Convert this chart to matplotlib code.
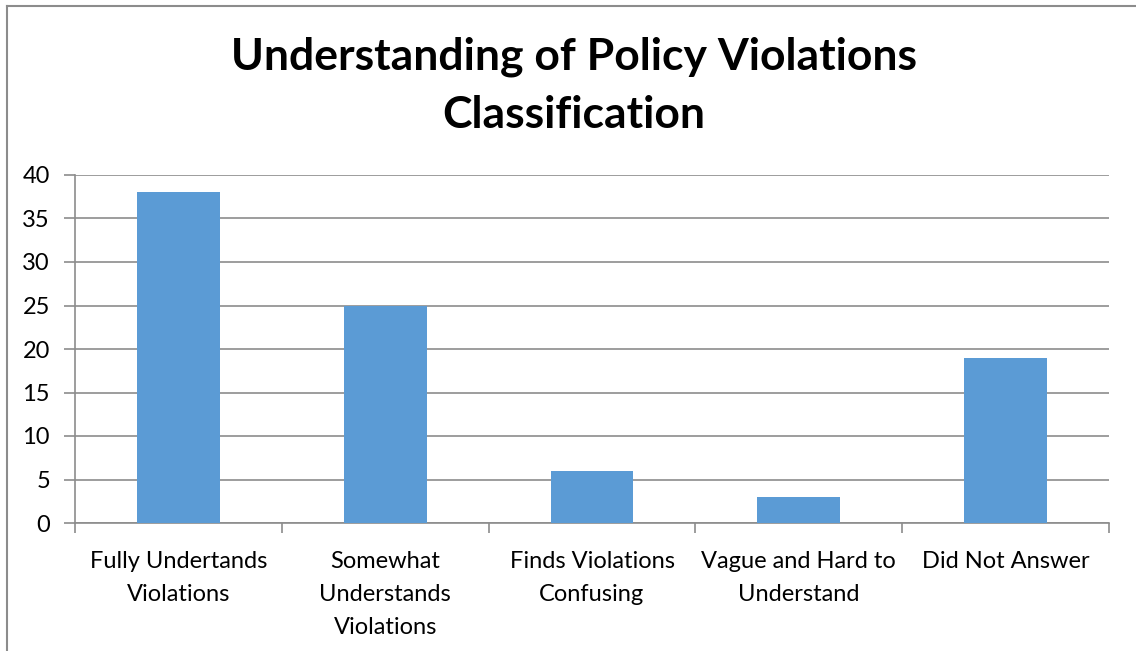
import matplotlib.pyplot as plt
import numpy as np
from matplotlib.lines import Line2D

categories = ['Fully Undertands\nViolations', 'Somewhat\nUnderstands\nViolations',
              'Finds Violations\nConfusing', 'Vague and Hard to\nUnderstand',
              'Did Not Answer']
counts = [38, 25, 6, 3, 19]
yticks = [0, 5, 10, 15, 20, 25, 30, 35, 40]

plt.rcParams['font.family'] = ['Lato', 'DejaVu Sans']

W, H = 1136, 651
fig = plt.figure(figsize=(W / 100, H / 100), dpi=100)
ax = fig.add_axes([75 / W, 1 - 523 / H, (1109 - 75) / W, (523 - 175) / H])

x = np.arange(len(categories))
ax.bar(x, counts, width=0.4, color='#5B9BD5', zorder=3)

ax.set_xlim(-0.5, len(categories) - 0.5)
ax.set_ylim(0, 40)
ax.set_yticks(yticks)
ax.set_yticklabels([str(v) for v in yticks], fontsize=17)
ax.yaxis.grid(True, color='#8C8C8C', linewidth=1.2)
ax.set_axisbelow(True)

ax.set_xticks(x)
ax.set_xticklabels(categories, fontsize=17, linespacing=1.7, va='top')
ax.set_xticks(np.arange(len(categories) + 1) - 0.5, minor=True)
ax.tick_params(axis='x', which='major', length=0, pad=20)
ax.tick_params(axis='x', which='minor', length=7, width=1.2, color='#8C8C8C')
ax.tick_params(axis='y', length=8, width=1.2, color='#8C8C8C', pad=10)

for side in ['top', 'right']:
    ax.spines[side].set_visible(False)
for side in ['left', 'bottom']:
    ax.spines[side].set_color('#8C8C8C')
    ax.spines[side].set_linewidth(1.2)

fig.text(574 / W, 1 - 57 / H, 'Understanding of Policy Violations',
         ha='center', va='center', fontsize=32, fontweight='bold')
fig.text(574 / W, 1 - 115 / H, 'Classification',
         ha='center', va='center', fontsize=32, fontweight='bold')

# chart frame: only the left and top edges fall inside the image
fig.add_artist(Line2D([7 / W, 7 / W], [0, 1 - 6 / H], color='#8C8C8C', linewidth=1.5))
fig.add_artist(Line2D([7 / W, 1], [1 - 6 / H, 1 - 6 / H], color='#8C8C8C', linewidth=1.5))

fig.savefig('out.png', dpi=100)
